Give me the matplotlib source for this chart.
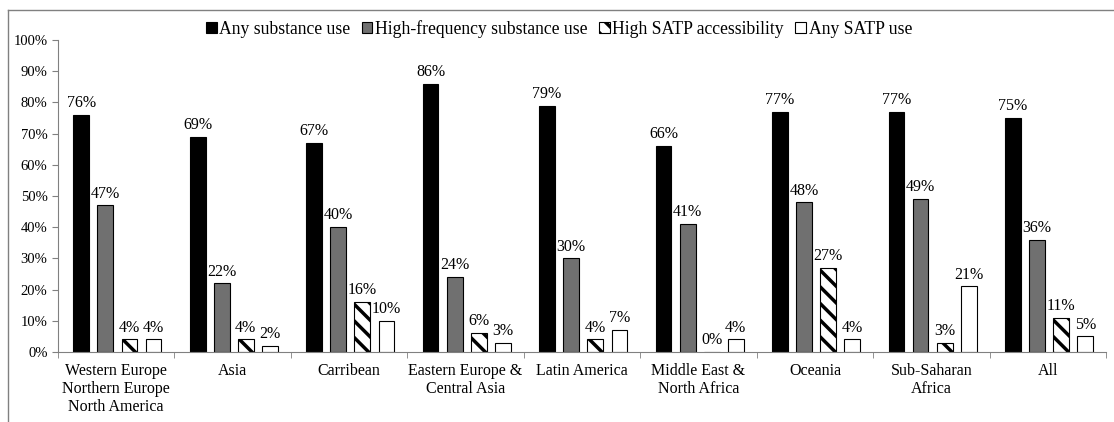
import numpy as np
import matplotlib.pyplot as plt
from matplotlib.lines import Line2D

plt.rcParams['font.family'] = ['Liberation Serif', 'DejaVu Serif']
plt.rcParams['hatch.linewidth'] = 2.5

# --- data ---
regions = ['Western Europe\nNorthern Europe\nNorth America', 'Asia', 'Carribean',
           'Eastern Europe &\nCentral Asia', 'Latin America', 'Middle East &\nNorth Africa',
           'Oceania', 'Sub-Saharan\nAfrica', 'All']
series_names = ['Any substance use', 'High-frequency substance use',
                'High SATP accessibility', 'Any SATP use']
any_use = [76, 69, 67, 86, 79, 66, 77, 77, 75]
high_freq = [47, 22, 40, 24, 30, 41, 48, 49, 36]
high_access = [4, 4, 16, 6, 4, 0, 27, 3, 11]
any_satp = [4, 2, 10, 3, 7, 4, 4, 21, 5]

values = [any_use, high_freq, high_access, any_satp]
colors = ['black', '#707070', 'white', 'white']
hatches = [None, None, '\\\\', None]

fig = plt.figure(figsize=(11.14, 4.22), dpi=100)
ax = fig.add_axes([0.052, 0.166, 0.941, 0.739])

x = np.arange(len(regions))
width = 0.135
step = 0.207
for i, (vals, c, h) in enumerate(zip(values, colors, hatches)):
    pos = x + (i - 1.5) * step + 0.01
    ax.bar(pos, vals, width, color=c, edgecolor='black', linewidth=0.8,
           hatch=h, label=series_names[i])
    for p, v in zip(pos, vals):
        ax.text(p, v + 1.2, f'{v}%', ha='center', va='bottom', fontsize=11.5)

ax.set_xlim(-0.5, len(regions) - 0.5)
ax.set_ylim(0, 100)
ax.set_yticks(range(0, 101, 10))
ax.set_yticklabels([f'{t}%' for t in range(0, 101, 10)], fontsize=10.5)
ax.set_xticks(x)
ax.set_xticklabels(regions, fontsize=11.5, linespacing=1.15)
ax.tick_params(axis='x', length=0, pad=8)
ax.set_xticks(np.arange(-0.5, len(regions)), minor=True)
ax.tick_params(axis='x', which='minor', length=4, color='#808080')
ax.tick_params(axis='y', length=4, color='#808080')
for s in ['top', 'right']:
    ax.spines[s].set_visible(False)
for s in ['left', 'bottom']:
    ax.spines[s].set_color('#808080')

ax.legend(loc='upper center', bbox_to_anchor=(0.478, 1.115), ncol=4, frameon=False,
          fontsize=12.7, handlelength=0.6, handleheight=0.6, handletextpad=0.15,
          columnspacing=0.65)

# outer chart frame (top and left edges visible)
fig.add_artist(Line2D([8 / 1114, 1], [1 - 10 / 422, 1 - 10 / 422],
                      color='#808080', linewidth=1, transform=fig.transFigure))
fig.add_artist(Line2D([8 / 1114, 8 / 1114], [0, 1 - 10 / 422],
                      color='#808080', linewidth=1, transform=fig.transFigure))

fig.savefig('out.png', dpi=100)
